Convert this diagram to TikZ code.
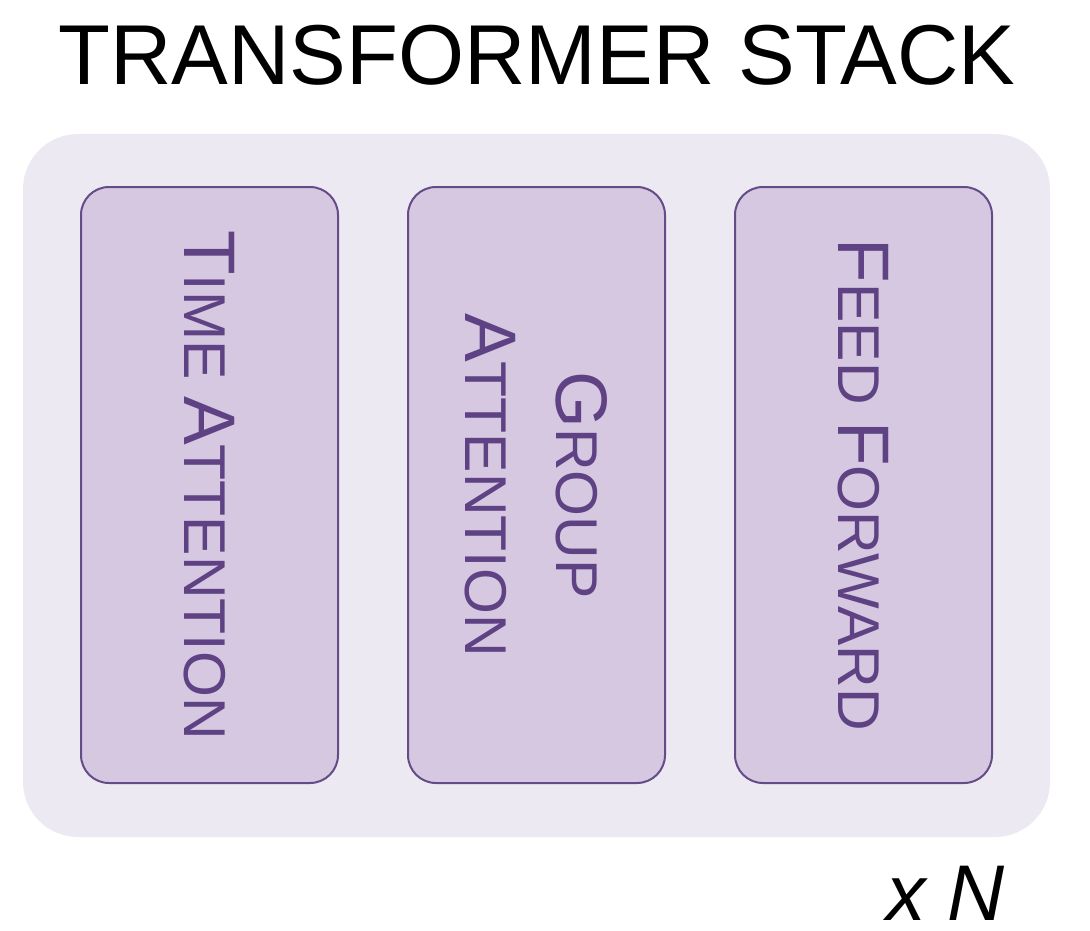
\documentclass[tikz,border=0pt]{standalone}
\usepackage{fontspec}
\setmainfont{Liberation Sans}
\definecolor{outerfill}{HTML}{EDE9F2}
\definecolor{blockfill}{HTML}{D6C8E0}
\definecolor{blockline}{HTML}{654C87}
\definecolor{blocktext}{HTML}{5E4283}
\newcommand{\CapL}[1]{{\fontsize{73}{80}\selectfont #1}}
\newcommand{\SmL}[1]{{\fontsize{59}{80}\selectfont #1}}
\tikzset{
  outerbox/.style={fill=outerfill, draw=none, rounded corners=55pt},
  block/.style={draw=blockline, fill=blockfill, line width=2pt, rounded corners=28pt, minimum width=257pt, minimum height=596pt, inner sep=0pt},
  blocklabel/.style={rotate=-90, text=blocktext, inner sep=0pt, align=center, font=\fontsize{59}{91}\selectfont},
}
\begin{document}
\begin{tikzpicture}[x=1pt,y=-1pt]
\useasboundingbox (0,0) rectangle (1090,931);
\node[anchor=base, inner sep=0pt, font=\fontsize{85}{90}\selectfont] (title) at (537,85) {TRANSFORMER STACK};
\fill[outerbox] (23,134) rectangle (1050,837);
\node[block] (time) at (209.5,485) {};
\node[block] (group) at (536.5,485) {};
\node[block] (ff) at (863.5,485) {};
\node[blocklabel] (timelbl) at (time.center) {\CapL{T}\SmL{IME} \CapL{A}\SmL{TTENTION}};
\node[blocklabel] (grouplbl) at (536,485) {\CapL{G}\SmL{ROUP}\\\CapL{A}\SmL{TTENTION}};
\node[blocklabel] (fflbl) at (ff.center) {\CapL{F}\SmL{EED} \CapL{F}\SmL{ORWARD}};
\node[anchor=base east, inner sep=0pt, font=\fontsize{79}{90}\selectfont\itshape] (xn) at (1005,920) {x N};
\end{tikzpicture}
\end{document}
